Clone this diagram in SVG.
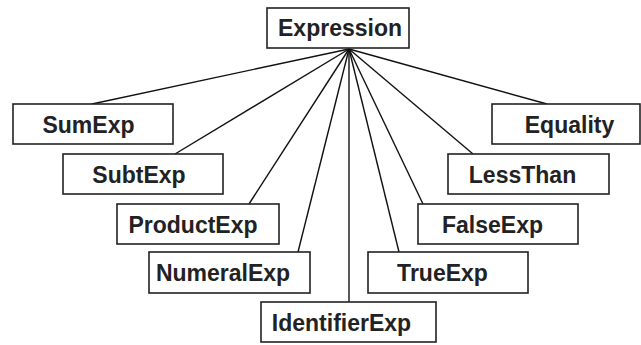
<svg xmlns="http://www.w3.org/2000/svg" width="641" height="345" viewBox="0 0 641 345">
<style>
.n rect{fill:#fff;stroke:#222;stroke-width:1.6}
text{font-family:"Liberation Sans",Arial,sans-serif;font-weight:bold;font-size:23px;fill:#222;text-anchor:middle}
.c line{stroke:#111;stroke-width:1.4}
</style>
<g class="c" id="connectors">
<line x1="349" y1="49" x2="92" y2="104"/>
<line x1="349" y1="49" x2="175" y2="154"/>
<line x1="349" y1="49" x2="249" y2="204"/>
<line x1="349" y1="49" x2="298" y2="252"/>
<line x1="349" y1="49" x2="349" y2="302"/>
<line x1="349" y1="49" x2="399" y2="252"/>
<line x1="349" y1="49" x2="423" y2="204"/>
<line x1="349" y1="49" x2="473" y2="154"/>
<line x1="349" y1="49" x2="547" y2="104"/>
</g>
<g class="n" id="expression"><rect x="267" y="8" width="142" height="40"/><text x="340" y="36">Expression</text></g>
<g class="n" id="sumexp"><rect x="13" y="104" width="160" height="40"/><text x="88.5" y="133">SumExp</text></g>
<g class="n" id="subtexp"><rect x="63" y="154" width="160" height="40"/><text x="139" y="183">SubtExp</text></g>
<g class="n" id="productexp"><rect x="117" y="204" width="162" height="40"/><text x="193" y="233">ProductExp</text></g>
<g class="n" id="numeralexp"><rect x="149" y="252" width="161" height="41"/><text x="223" y="281">NumeralExp</text></g>
<g class="n" id="identifierexp"><rect x="261" y="302" width="175" height="40"/><text x="341.5" y="331">IdentifierExp</text></g>
<g class="n" id="trueexp"><rect x="368" y="252" width="160" height="41"/><text x="442.5" y="281">TrueExp</text></g>
<g class="n" id="falseexp"><rect x="418" y="204" width="160" height="40"/><text x="492.5" y="233">FalseExp</text></g>
<g class="n" id="lessthan"><rect x="448" y="154" width="161" height="40"/><text x="522.5" y="183">LessThan</text></g>
<g class="n" id="equality"><rect x="492" y="104" width="148" height="40"/><text x="569.5" y="133">Equality</text></g>
</svg>
